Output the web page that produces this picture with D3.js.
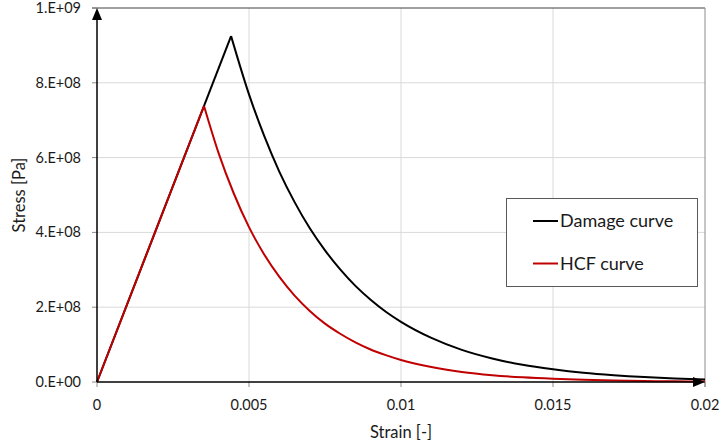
<!DOCTYPE html>
<html>
<head>
<meta charset="utf-8">
<script src="https://cdn.jsdelivr.net/npm/d3@7"></script>
<style>
  body { margin: 0; background: #fff; }
  svg { display: block; font-family: Lato, "Open Sans", sans-serif; }
</style>
</head>
<body>
<svg id="chart" width="721" height="447"></svg>
<script>
// Values
const damageStrain = [0, 0.00441, 0.005, 0.0055, 0.006, 0.0065, 0.007, 0.0075, 0.008, 0.0085, 0.009, 0.0095, 0.010, 0.011, 0.012, 0.013, 0.014, 0.015, 0.016, 0.017, 0.018, 0.019, 0.020];
const damageStress = [0, 9.25e8, 7.69e8, 6.58e8, 5.62e8, 4.81e8, 4.11e8, 3.52e8, 3.01e8, 2.57e8, 2.20e8, 1.88e8, 1.61e8, 1.18e8, 8.6e7, 6.3e7, 4.6e7, 3.4e7, 2.46e7, 1.80e7, 1.31e7, 9.6e6, 7.0e6];

const hcfStrain = [0, 0.00352, 0.004, 0.0045, 0.005, 0.0055, 0.006, 0.0065, 0.007, 0.0075, 0.008, 0.0085, 0.009, 0.0095, 0.010, 0.011, 0.012, 0.013, 0.014, 0.015, 0.016, 0.017, 0.018, 0.019, 0.020];
const hcfStress = [0, 7.38e8, 6.12e8, 5.04e8, 4.14e8, 3.41e8, 2.81e8, 2.31e8, 1.90e8, 1.56e8, 1.29e8, 1.06e8, 8.7e7, 7.2e7, 5.9e7, 4.0e7, 2.70e7, 1.83e7, 1.24e7, 8.4e6, 5.7e6, 3.8e6, 2.6e6, 1.8e6, 1.2e6];

const xTicks = [0, 0.005, 0.01, 0.015, 0.02];
const xTickLabels = ['0', '0.005', '0.01', '0.015', '0.02'];
const yTicks = [0, 2e8, 4e8, 6e8, 8e8, 1e9];
const yTickLabels = ['0.E+00', '2.E+08', '4.E+08', '6.E+08', '8.E+08', '1.E+09'];

const seriesNames = ['Damage curve', 'HCF curve'];
const seriesColors = ['#000000', '#c00000'];

const margin = { top: 8, right: 16, bottom: 65, left: 97 };
const width = 721 - margin.left - margin.right;
const height = 447 - margin.top - margin.bottom;

const svg = d3.select('#chart');
const g = svg.append('g').attr('transform', `translate(${margin.left},${margin.top})`);

const x = d3.scaleLinear().domain([0, 0.02]).range([0, width]);
const y = d3.scaleLinear().domain([0, 1e9]).range([height, 0]);

// gridlines
g.selectAll('.vgrid').data(xTicks.slice(1, -1)).enter().append('line')
  .attr('x1', d => x(d)).attr('x2', d => x(d))
  .attr('y1', 0).attr('y2', height)
  .attr('stroke', '#d9d9d9').attr('stroke-width', 1);
g.selectAll('.hgrid').data(yTicks.slice(1, -1)).enter().append('line')
  .attr('x1', 0).attr('x2', width)
  .attr('y1', d => y(d)).attr('y2', d => y(d))
  .attr('stroke', '#d9d9d9').attr('stroke-width', 1);

// top and right frame
g.append('line').attr('x1', -5).attr('x2', width).attr('y1', 0).attr('y2', 0)
  .attr('stroke', '#404040').attr('stroke-width', 1);
g.append('line').attr('x1', width).attr('x2', width).attr('y1', 0).attr('y2', height + 5)
  .attr('stroke', '#8c8c8c').attr('stroke-width', 1);

// tick marks
g.selectAll('.ytick').data(yTicks).enter().append('line')
  .attr('x1', -5).attr('x2', 0)
  .attr('y1', d => y(d)).attr('y2', d => y(d))
  .attr('stroke', '#8c8c8c');
g.selectAll('.xtick').data(xTicks).enter().append('line')
  .attr('x1', d => x(d)).attr('x2', d => x(d))
  .attr('y1', height).attr('y2', height + 5)
  .attr('stroke', '#8c8c8c');

// tick labels
g.selectAll('.ylab').data(yTicks).enter().append('text')
  .attr('x', -16).attr('y', d => y(d)).attr('dy', '0.35em')
  .attr('text-anchor', 'end').attr('font-size', 14.5).attr('fill', '#1a1a1a')
  .text((d, i) => yTickLabels[i]);
g.selectAll('.xlab').data(xTicks).enter().append('text')
  .attr('x', d => x(d)).attr('y', height + 23).attr('dy', '0.35em')
  .attr('text-anchor', 'middle').attr('font-size', 14.5).attr('fill', '#1a1a1a')
  .text((d, i) => xTickLabels[i]);

// axis titles
g.append('text').attr('x', width / 2).attr('y', height + 50).attr('dy', '0.35em')
  .attr('text-anchor', 'middle').attr('font-size', 16.5).attr('fill', '#1a1a1a')
  .text('Strain [-]');
g.append('text').attr('transform', `translate(${-78},${height / 2}) rotate(-90)`)
  .attr('dy', '0.35em').attr('text-anchor', 'middle').attr('font-size', 16.5).attr('fill', '#1a1a1a')
  .text('Stress [Pa]');

// curves: straight elastic part, then smooth decay
const line = d3.line().x(d => x(d[0])).y(d => y(d[1]));
const smooth = d3.line().x(d => x(d[0])).y(d => y(d[1])).curve(d3.curveMonotoneX);

function drawSeries(strain, stress, color) {
  const pts = strain.map((s, i) => [s, stress[i]]);
  g.append('path').datum(pts.slice(0, 2)).attr('d', line)
    .attr('fill', 'none').attr('stroke', color).attr('stroke-width', 2).attr('stroke-linejoin', 'miter');
  g.append('path').datum(pts.slice(1)).attr('d', smooth)
    .attr('fill', 'none').attr('stroke', color).attr('stroke-width', 2);
}
drawSeries(damageStrain, damageStress, seriesColors[0]);
drawSeries(hcfStrain, hcfStress, seriesColors[1]);

// axes with arrows
g.append('line').attr('x1', 0).attr('x2', 0).attr('y1', height).attr('y2', 10)
  .attr('stroke', '#000').attr('stroke-width', 1.5);
g.append('path').attr('d', `M0,0 L-5,12 L5,12 Z`).attr('fill', '#000');
g.append('line').attr('x1', 0).attr('x2', width - 10).attr('y1', height).attr('y2', height)
  .attr('stroke', '#000').attr('stroke-width', 1.5);
g.append('path').attr('d', `M${width},${height} L${width - 12},${height - 5} L${width - 12},${height + 5} Z`).attr('fill', '#000');

// legend
const legend = svg.append('g').attr('transform', 'translate(506,198)');
legend.append('rect').attr('x', 0.5).attr('y', 0.5).attr('width', 191).attr('height', 88)
  .attr('fill', '#fff').attr('stroke', '#595959').attr('stroke-width', 1);
seriesNames.forEach((name, i) => {
  const ly = 23 + i * 42.5;
  legend.append('line').attr('x1', 27).attr('x2', 52).attr('y1', ly).attr('y2', ly)
    .attr('stroke', seriesColors[i]).attr('stroke-width', 2);
  legend.append('text').attr('x', 54).attr('y', ly).attr('dy', '0.35em')
    .attr('font-size', 18).attr('fill', '#1a1a1a').text(name);
});
</script>
</body>
</html>
